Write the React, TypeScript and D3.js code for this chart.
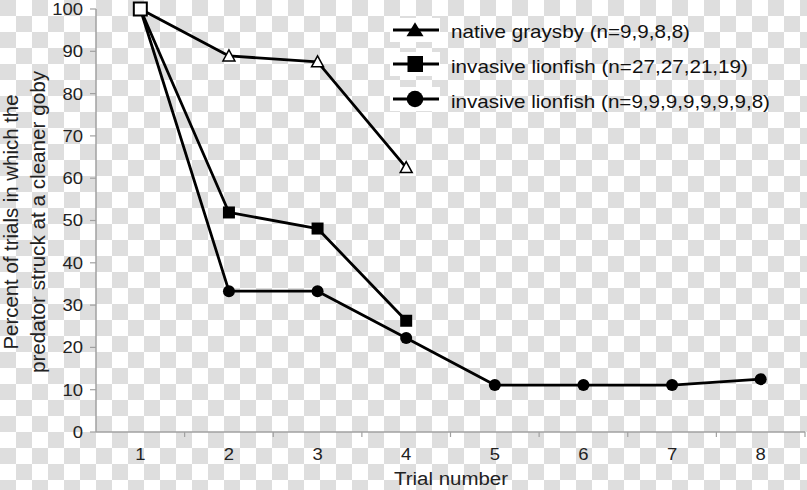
import React from "react";
import * as d3 from "d3";

const trials = [1, 2, 3, 4, 5, 6, 7, 8];
const graysby = [100, 88.9, 87.5, 62.5];
const lionfish27 = [100, 51.9, 48.1, 26.3];
const lionfish9 = [100, 33.3, 33.3, 22.2, 11.1, 11.1, 11.1, 12.5];
const yTicks = [0, 10, 20, 30, 40, 50, 60, 70, 80, 90, 100];
const legendLabels = [
  "native graysby (n=9,9,8,8)",
  "invasive lionfish (n=27,27,21,19)",
  "invasive lionfish (n=9,9,9,9,9,9,9,8)",
];
const yTitle = ["Percent of trials in which the", "predator struck at a cleaner goby"];
const xTitle = "Trial number";

const W = 807;
const H = 490;
const left = 96;
const right = 805;
const top = 9;
const bottom = 432;
const font = "Liberation Sans, Arial, sans-serif";

const legendLens = [239, 297, 319];
const yTitleLens = [255, 302];

export default function App() {
  const x = d3.scaleBand<number>().domain(trials).range([left, right]);
  const cx = (t: number) => (x(t) as number) + x.bandwidth() / 2;
  const y = d3.scaleLinear().domain([0, 100]).range([bottom, top]);
  const line = d3
    .line<number>()
    .x((_, i) => cx(trials[i]))
    .y((v) => y(v));

  const tri = (px: number, py: number, w: number, h: number) =>
    `M${px},${py - h * 0.55}L${px + w / 2},${py + h * 0.45}L${px - w / 2},${py + h * 0.45}Z`;

  const cells: JSX.Element[] = [];
  for (let i = 0; i < Math.ceil(W / 16); i++) {
    for (let j = 0; j < Math.ceil(H / 16); j++) {
      if ((i + j) % 2 === 0)
        cells.push(<rect key={`c${i}-${j}`} x={i * 16} y={j * 16} width={16} height={16} fill="#dedede" />);
    }
  }

  const symY = [30, 64, 99];
  const textY = [38, 73, 108];

  return (
    <svg width={W} height={H} style={{ position: "absolute", left: 0, top: 0 }}>
      <rect width={W} height={H} fill="#ffffff" />
      {cells}
      <line x1={left} x2={left} y1={top} y2={bottom} stroke="#a0a0a0" strokeWidth={1.5} />
      <line x1={left} x2={right} y1={bottom} y2={bottom} stroke="#a0a0a0" strokeWidth={1.5} />
      {yTicks.map((t) => (
        <g key={`yt${t}`}>
          <line x1={left - 6} x2={left} y1={y(t)} y2={y(t)} stroke="#a0a0a0" strokeWidth={1.2} />
          <g transform={`translate(${left - 13},${y(t)}) scale(1.12,1)`}>
            <text x={0} y={0} dy="0.36em" textAnchor="end" fontFamily={font} fontSize={16.5} fill="#222">
              {t}
            </text>
          </g>
        </g>
      ))}
      {trials.map((t) => (
        <g key={`xt${t}`}>
          <line
            x1={(x(t) as number) + x.bandwidth()}
            x2={(x(t) as number) + x.bandwidth()}
            y1={bottom}
            y2={bottom + 5}
            stroke="#a0a0a0"
            strokeWidth={1.2}
          />
          <g transform={`translate(${cx(t)},${bottom + 28}) scale(1.12,1)`}>
            <text x={0} y={0} textAnchor="middle" fontFamily={font} fontSize={16.5} fill="#222">
              {t}
            </text>
          </g>
        </g>
      ))}
      <text
        x={451}
        y={485}
        textAnchor="middle"
        fontFamily={font}
        fontSize={18}
        fill="#222"
        textLength={114}
        lengthAdjust="spacingAndGlyphs"
      >
        {xTitle}
      </text>
      <g transform={`translate(0,222) rotate(-90)`}>
        {yTitle.map((s, i) => (
          <text
            key={`yti${i}`}
            x={0}
            y={i === 0 ? 17.5 : 44.5}
            textAnchor="middle"
            fontFamily={font}
            fontSize={19.5}
            fill="#222"
            textLength={yTitleLens[i]}
            lengthAdjust="spacingAndGlyphs"
          >
            {s}
          </text>
        ))}
      </g>

      <path d={line(graysby) || ""} fill="none" stroke="#000" strokeWidth={2.8} strokeLinejoin="round" />
      <path d={line(lionfish27) || ""} fill="none" stroke="#000" strokeWidth={2.8} strokeLinejoin="round" />
      <path d={line(lionfish9) || ""} fill="none" stroke="#000" strokeWidth={2.8} strokeLinejoin="round" />

      {lionfish9.map((v, i) =>
        i === 0 ? null : <circle key={`c9${i}`} cx={cx(trials[i])} cy={y(v)} r={6} fill="#000" />
      )}
      {lionfish27.map((v, i) =>
        i === 0 ? null : (
          <rect key={`s27${i}`} x={cx(trials[i]) - 6} y={y(v) - 6} width={12} height={12} fill="#000" />
        )
      )}
      {graysby.map((v, i) =>
        i === 0 ? null : (
          <path key={`tg${i}`} d={tri(cx(trials[i]), y(v), 12, 11)} fill="#fff" stroke="#000" strokeWidth={1.5} />
        )
      )}
      <rect
        x={cx(trials[0]) - 6.5}
        y={y(graysby[0]) - 6.5}
        width={13}
        height={13}
        fill="#fff"
        stroke="#000"
        strokeWidth={2}
      />

      {legendLabels.map((lab, i) => (
        <g key={`lg${i}`}>
          <rect x={390} y={symY[i] - 12} width={50} height={24} fill="#fff" />
          <line x1={393} x2={439} y1={symY[i]} y2={symY[i]} stroke="#000" strokeWidth={3} />
          {i === 0 && <path d={tri(415, symY[i], 17, 14)} fill="#000" />}
          {i === 1 && <rect x={407.5} y={symY[i] - 8} width={15.5} height={16} fill="#000" />}
          {i === 2 && <circle cx={415} cy={symY[i]} r={8.3} fill="#000" />}
          <text
            x={451}
            y={textY[i]}
            fontFamily={font}
            fontSize={18.5}
            fill="#111"
            textLength={legendLens[i]}
            lengthAdjust="spacingAndGlyphs"
          >
            {lab}
          </text>
        </g>
      ))}
    </svg>
  );
}
